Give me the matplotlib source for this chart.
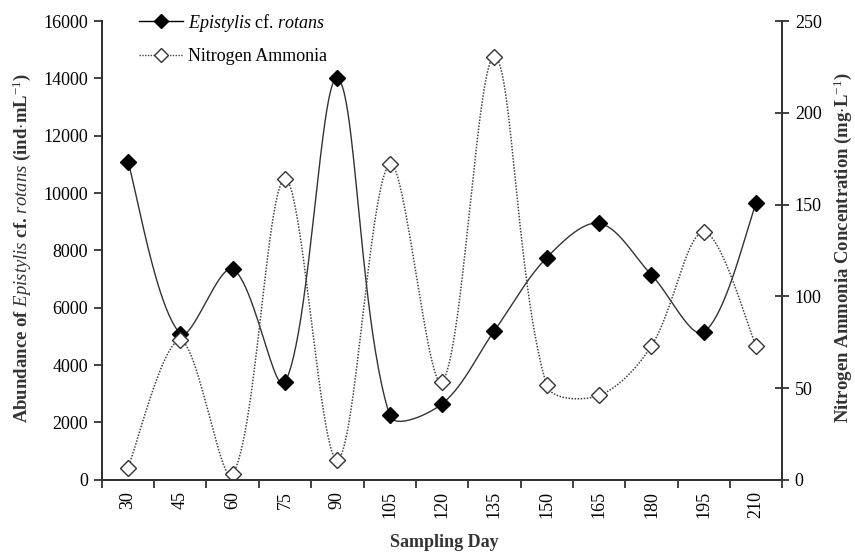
import numpy as np
import matplotlib
matplotlib.use("Agg")
import matplotlib.pyplot as plt

plt.rcParams['font.family'] = 'Liberation Serif'
plt.rcParams['mathtext.fontset'] = 'custom'
plt.rcParams['mathtext.rm'] = 'Liberation Serif'
plt.rcParams['mathtext.it'] = 'Liberation Serif:italic'
plt.rcParams['mathtext.bf'] = 'Liberation Serif:bold'

# data
days = ["30", "45", "60", "75", "90", "105", "120", "135", "150", "165", "180", "195", "210"]
epistylis = [11100, 5100, 7350, 3400, 14000, 2250, 2650, 5200, 7750, 8950, 7150, 5150, 9650]
ammonia = [6.5, 76, 3, 164, 11, 172, 53.5, 230.5, 51.5, 46, 73, 135, 73]


def smooth(axis, y, n=50):
    # Excel style smoothed line: bezier segments worked out in screen space
    pts = axis.transData.transform(np.column_stack([np.arange(len(y)), y]))
    k = len(pts)
    out = []
    for i in range(k - 1):
        p0, p3 = pts[i], pts[i + 1]
        if i == 0:
            c1 = p0 + (p3 - p0) / 6
        else:
            d1 = np.linalg.norm(p0 - pts[i - 1])
            d2 = np.linalg.norm(p3 - p0)
            c1 = p0 + (p3 - pts[i - 1]) * d2 / (d1 + d2) / 3
        if i + 2 >= k:
            c2 = p3 - (p3 - p0) / 6
        else:
            d1 = np.linalg.norm(p3 - p0)
            d2 = np.linalg.norm(pts[i + 2] - p3)
            c2 = p3 - (pts[i + 2] - p0) * d1 / (d1 + d2) / 3
        t = np.linspace(0, 1, n)[:, None]
        seg = (1-t)**3*p0 + 3*(1-t)**2*t*c1 + 3*(1-t)*t**2*c2 + t**3*p3
        out.append(seg)
    out = axis.transData.inverted().transform(np.vstack(out))
    return out[:, 0], out[:, 1]


fig = plt.figure(figsize=(8.55, 5.56), dpi=100)
ax = fig.add_axes([0.119, 0.137, 0.796, 0.825])
ax2 = ax.twinx()

x = np.arange(len(days))
ax.set_xlim(-0.5, len(days) - 0.5)
ax.set_ylim(0, 16000)
ax.set_yticks(range(0, 16001, 2000))
ax2.set_ylim(0, 250)
ax2.set_yticks(range(0, 251, 50))

sx, sy = smooth(ax, epistylis)
ax.plot(sx, sy, color='#333333', lw=1.0)
ax.plot(x, epistylis, ls='none', marker='D', ms=8, color='black')

nx, ny = smooth(ax2, ammonia)
ax2.plot(nx, ny, color='#444444', lw=1.1, ls=(0, (1, 1)))
ax2.plot(x, ammonia, ls='none', marker='D', ms=8, mfc='white', mec='#333333', mew=1.0)

ax.set_xticks(x)
ax.set_xticklabels(days, rotation=90, fontsize=13)
ax.set_xticks(np.arange(-0.5, len(days)), minor=True)
ax.tick_params(axis='x', which='major', length=0, pad=8)
ax.tick_params(axis='x', which='minor', length=6, width=1.3, color='#333333')
ax.tick_params(axis='y', length=6, width=1.3, color='#333333', labelsize=13, pad=4)
ax2.tick_params(axis='y', direction='inout', length=10, width=1.3, color='#333333', labelsize=13, pad=4)

for a in (ax, ax2):
    a.spines['top'].set_visible(False)
    for s in ('left', 'bottom', 'right'):
        a.spines[s].set_linewidth(1.4)
        a.spines[s].set_color('#333333')

fig.text(0.52, 0.024, "Sampling Day", fontsize=13, fontweight='bold', ha='center', va='center', color='#333333')
fig.text(0.026, 0.554, r"Abundance of $\mathbf{\it{Epistylis}}$ cf. $\it{rotans}$ (ind$\cdot$mL$^{-1}$)",
         fontsize=13.5, fontweight='bold', rotation=90, ha='center', va='center', color='#333333')
fig.text(0.986, 0.554, r"Nitrogen Ammonia Concentration (mg$\cdot$L$^{-1}$)",
         fontsize=13.5, fontweight='bold', rotation=90, ha='center', va='center', color='#333333')

h1, = ax.plot([], [], color='black', lw=1.0, marker='D', ms=7)
h2, = ax.plot([], [], color='#444444', lw=1.0, ls=(0, (1, 1)), marker='D', ms=7, mfc='white', mec='#333333')
ax.legend([h1, h2], [r"$\it{Epistylis}$ cf. $\it{rotans}$", "Nitrogen Ammonia"],
          loc='upper left', bbox_to_anchor=(0.042, 1.04), frameon=False, fontsize=13,
          borderpad=0, handlelength=2.4, handletextpad=0.3, labelspacing=0.8)

fig.savefig("out.png", dpi=100)
